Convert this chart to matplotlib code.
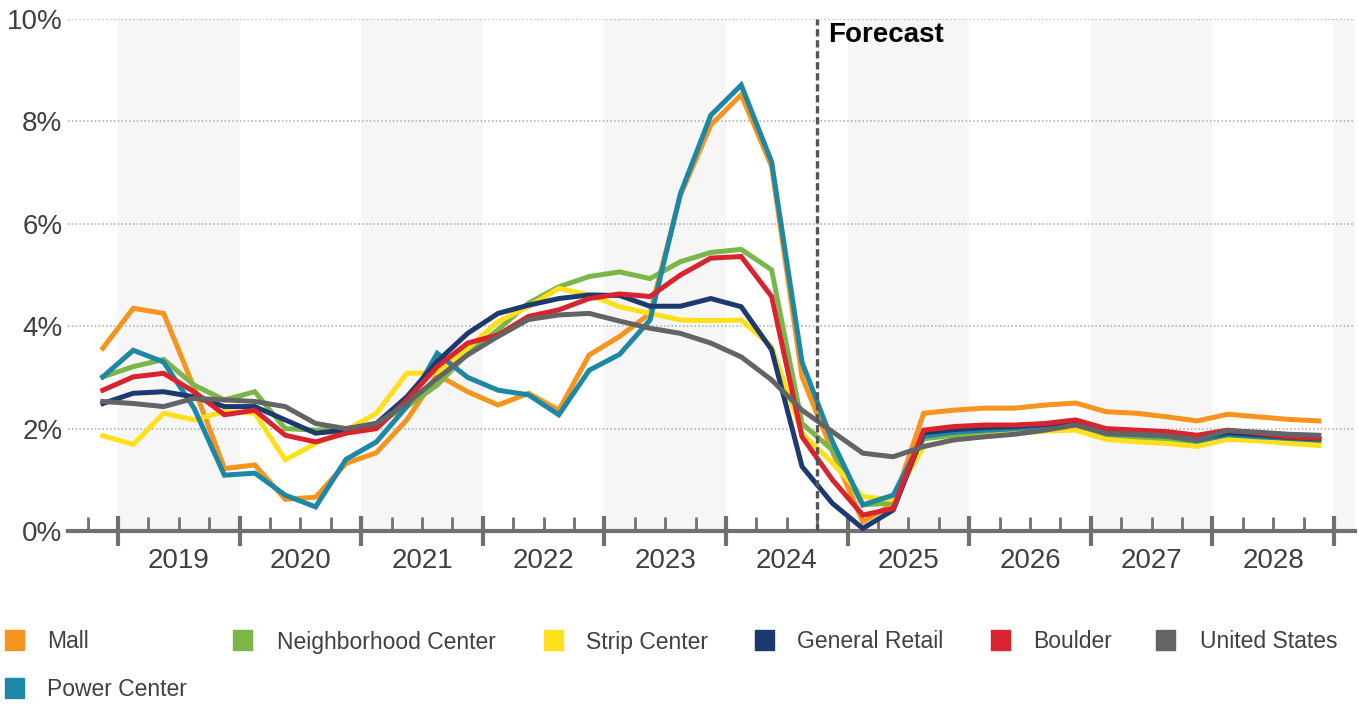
import numpy as np
import matplotlib
matplotlib.use("Agg")
import matplotlib.pyplot as plt
from matplotlib.patches import Rectangle
import matplotlib.transforms as mtransforms

plt.rcParams["font.family"] = ["Liberation Sans", "DejaVu Sans"]

# quarterly vacancy, 2018 Q4 .. 2028 Q4
years = [2019, 2020, 2021, 2022, 2023, 2024, 2025, 2026, 2027, 2028]
forecast_start = "2024 Q4"

mall = [3.57, 4.35, 4.25, 2.80, 1.22, 1.29, 0.62, 0.66, 1.32, 1.53, 2.17,
        3.05, 2.72, 2.46, 2.69, 2.36, 3.44, 3.80, 4.25, 6.56, 7.93, 8.52,
        7.12, 3.01, 1.55, 0.18, 0.54, 2.30, 2.36, 2.40, 2.40, 2.46, 2.50,
        2.33, 2.30, 2.23, 2.15, 2.28, 2.23, 2.18, 2.15]
neighborhood = [3.01, 3.21, 3.35, 2.85, 2.56, 2.72, 2.00, 1.97, 2.00, 2.10, 2.43,
                2.85, 3.47, 3.93, 4.45, 4.77, 4.97, 5.06, 4.93, 5.26, 5.44, 5.50,
                5.10, 2.10, 1.58, 0.51, 0.55, 1.80, 1.87, 1.92, 1.97, 2.02, 2.07,
                1.85, 1.82, 1.78, 1.72, 1.84, 1.80, 1.76, 1.73]
strip = [1.86, 1.69, 2.30, 2.17, 2.33, 2.30, 1.39, 1.71, 1.97, 2.30, 3.08,
         3.09, 3.57, 4.09, 4.38, 4.74, 4.61, 4.38, 4.25, 4.12, 4.11, 4.12,
         3.60, 1.91, 1.33, 0.67, 0.61, 1.65, 1.78, 1.85, 1.90, 1.95, 1.97,
         1.79, 1.74, 1.71, 1.65, 1.79, 1.76, 1.71, 1.67]
general = [2.49, 2.69, 2.72, 2.62, 2.43, 2.43, 2.17, 1.91, 1.97, 2.10, 2.62,
           3.31, 3.86, 4.25, 4.41, 4.54, 4.61, 4.60, 4.39, 4.39, 4.54, 4.38,
           3.54, 1.26, 0.54, 0.05, 0.41, 1.92, 1.98, 2.02, 2.04, 2.08, 2.12,
           1.95, 1.92, 1.88, 1.80, 1.92, 1.88, 1.83, 1.80]
boulder = [2.75, 3.01, 3.08, 2.72, 2.27, 2.36, 1.87, 1.74, 1.91, 2.00, 2.56,
           3.21, 3.67, 3.83, 4.19, 4.32, 4.54, 4.63, 4.58, 5.00, 5.33, 5.36,
           4.58, 1.84, 1.00, 0.31, 0.44, 1.97, 2.04, 2.07, 2.07, 2.10, 2.17,
           2.00, 1.97, 1.94, 1.87, 1.97, 1.91, 1.84, 1.81]
us = [2.53, 2.49, 2.43, 2.59, 2.56, 2.53, 2.43, 2.10, 2.00, 2.10, 2.49,
      2.98, 3.44, 3.80, 4.13, 4.22, 4.25, 4.10, 3.96, 3.86, 3.67, 3.40,
      2.95, 2.36, 1.94, 1.52, 1.45, 1.65, 1.78, 1.84, 1.89, 1.97, 2.07,
      1.91, 1.89, 1.86, 1.78, 1.96, 1.93, 1.89, 1.87]
power = [3.01, 3.53, 3.30, 2.40, 1.09, 1.13, 0.70, 0.47, 1.40, 1.74, 2.43,
         3.47, 3.00, 2.75, 2.66, 2.27, 3.14, 3.45, 4.12, 6.59, 8.12, 8.71,
         7.21, 3.30, 1.75, 0.51, 0.70, 1.85, 1.93, 1.97, 2.00, 2.05, 2.10,
         1.90, 1.88, 1.85, 1.76, 1.88, 1.84, 1.81, 1.78]

series = [
    ("Mall", mall, "#f7941d"),
    ("Neighborhood Center", neighborhood, "#7ab648"),
    ("Strip Center", strip, "#ffe01b"),
    ("Power Center", power, "#1d87a6"),
    ("General Retail", general, "#1c3a70"),
    ("Boulder", boulder, "#d9232e"),
    ("United States", us, "#636466"),
]
legend_order = ["Mall", "Neighborhood Center", "Strip Center", "General Retail",
                "Boulder", "United States", "Power Center"]
colors = {name: c for name, _, c in series}

# x in quarters, 0 = start of 2019; points sit mid-quarter
x = np.arange(len(mall)) - 0.5
fc_year, fc_q = forecast_start.split(" Q")
fc_x = (int(fc_year) - years[0]) * 4 + int(fc_q) - 1

fig = plt.figure(figsize=(13.59, 7.04), dpi=100)
ax = fig.add_axes([68 / 1359, 1 - 531 / 704, (1355 - 68) / 1359, 512 / 704])

# alternate year shading
for i in range(0, len(years) + 1, 2):
    ax.axvspan(i * 4, i * 4 + 4, color="#f6f6f6", lw=0, zorder=0)

for v in [2, 4, 6, 8, 10]:
    ax.axhline(v, color="#aaaaaa", lw=1.1, ls=(0, (1, 1.5)), zorder=1)

for name, vals, c in series:
    ax.plot(x, vals, color=c, lw=3.6, solid_joinstyle="miter", zorder=3)

ax.axvline(fc_x, color="#555555", lw=2.4, dashes=(2.2, 1.1), zorder=4)
ax.text(fc_x + 0.36, 9.68, "Forecast", fontsize=20, fontweight="bold",
        color="black", va="center", ha="left")

ax.set_xlim(-1.645, 40.69)
ax.set_ylim(0, 10)

for s in ["left", "top", "right"]:
    ax.spines[s].set_visible(False)
ax.spines["bottom"].set_color("#707070")
ax.spines["bottom"].set_linewidth(3)

ax.set_yticks([0, 2, 4, 6, 8, 10])
ax.set_yticklabels(["0%", "2%", "4%", "6%", "8%", "10%"])
ax.tick_params(axis="y", length=0, pad=4, labelsize=20, labelcolor="#404040")

major = np.arange(0, len(years) * 4 + 1, 4)
minor = [q for q in range(-1, len(years) * 4 + 1) if q % 4 != 0]
ax.set_xticks(major)
ax.set_xticks(minor, minor=True)
ax.set_xticklabels([])
ax.tick_params(axis="x", which="major", direction="inout", length=22, width=3,
               color="#707070")
ax.tick_params(axis="x", which="minor", direction="in", length=10, width=2,
               color="#707070")

trans = mtransforms.blended_transform_factory(ax.transData, ax.transAxes)
for i, yr in enumerate(years):
    ax.text(i * 4 + 2, -0.058, str(yr), transform=trans, ha="center",
            va="center", fontsize=20, color="#404040")

# legend: square left edge, text left edge, row centre (pixels)
sq_x = [5, 233, 544, 755, 991, 1156, 5]
tx_x = [47, 277, 586, 797, 1033, 1200, 47]
row_y = [640, 640, 640, 640, 640, 640, 688]
for name, sx, tx, py in zip(legend_order, sq_x, tx_x, row_y):
    fig.patches.append(Rectangle((sx / 1359, (704 - py - 10) / 704), 19 / 1359,
                                 20 / 704, transform=fig.transFigure,
                                 color=colors[name]))
    fig.text(tx / 1359, (704 - py - 2) / 704, name, fontsize=16.5,
             color="#404040", va="center", ha="left")

fig.savefig("out.png", dpi=100)
